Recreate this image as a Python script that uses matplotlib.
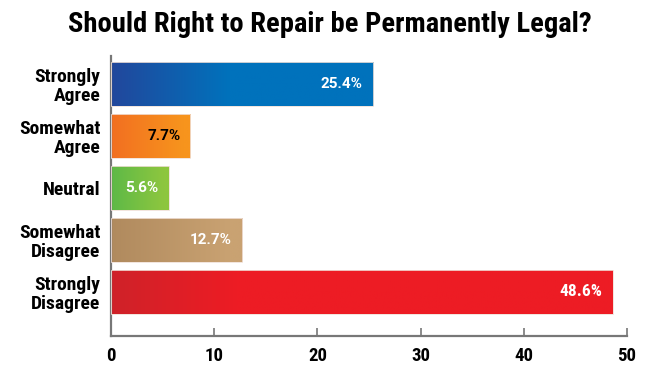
import numpy as np
import matplotlib.pyplot as plt
from matplotlib.colors import LinearSegmentedColormap
from matplotlib.patches import Rectangle

plt.rcParams['font.family'] = ['Roboto Condensed', 'DejaVu Sans']

categories = ['Strongly\nAgree', 'Somewhat\nAgree', 'Neutral', 'Somewhat\nDisagree', 'Strongly\nDisagree']
values = [25.4, 7.7, 5.6, 12.7, 48.6]
labels = ['25.4%', '7.7%', '5.6%', '12.7%', '48.6%']
# left colour, right colour of each bar gradient
grad_colors = [('#22479c', '#0072bc'), ('#f26f21', '#f7941d'), ('#5db947', '#8dc63f'),
               ('#b08a5e', '#c9a272'), ('#cf2229', '#ed1c24')]
grad_stop = [0.45, 0.9, 0.9, 0.9, 0.25]
label_colors = ['white', 'black', 'white', 'white', 'white']
label_fonts = ['Roboto', 'Roboto', 'Roboto', 'Roboto', 'Roboto Condensed']
label_sizes = [11, 11, 11, 11, 12.5]

fig = plt.figure(figsize=(6.6, 3.83), dpi=100)
ax = fig.add_axes([111 / 660, 1 - 336 / 383, (627 - 111) / 660, 280 / 383])

bar_h = 0.85
for i, (v, (c1, c2)) in enumerate(zip(values, grad_colors)):
    rect = Rectangle((0, i - bar_h / 2), v, bar_h, facecolor='none', edgecolor='#f0e0d8', lw=0.6, zorder=3)
    ax.add_patch(rect)
    cmap = LinearSegmentedColormap.from_list('g%d' % i, [(0, c1), (grad_stop[i], c2), (1, c2)])
    grad = np.linspace(0, 1, 256).reshape(1, -1)
    im = ax.imshow(grad, cmap=cmap, aspect='auto', extent=(0, v, i + bar_h / 2, i - bar_h / 2), zorder=2)
    im.set_clip_path(rect)
    ax.text(v - 1.0, i, labels[i], ha='right', va='center', color=label_colors[i],
            fontsize=label_sizes[i], fontweight='bold', family=[label_fonts[i], 'DejaVu Sans'], zorder=4)

ax.set_xlim(0, 50)
ax.set_ylim(4.85, -0.54)
ax.set_yticks(range(len(categories)))
ax.set_yticklabels(categories, fontsize=14, fontweight='bold', linespacing=1.05)
ax.set_xticks([0, 10, 20, 30, 40, 50])
ax.set_xticklabels(['0', '10', '20', '30', '40', '50'], fontsize=13.5, fontweight='bold')
ax.tick_params(axis='y', length=0, pad=7.5)
ax.tick_params(axis='x', direction='in', length=6, width=1.2, color='#777777', pad=8)
for s in ['top', 'right']:
    ax.spines[s].set_visible(False)
for s in ['left', 'bottom']:
    ax.spines[s].set_color('#777777')
    ax.spines[s].set_linewidth(1.6)

fig.text(0.5, 1 - 24 / 383, 'Should Right to Repair be Permanently Legal?', ha='center', va='center',
         fontsize=20.5, fontweight='bold')

fig.savefig('out.png', dpi=100)
